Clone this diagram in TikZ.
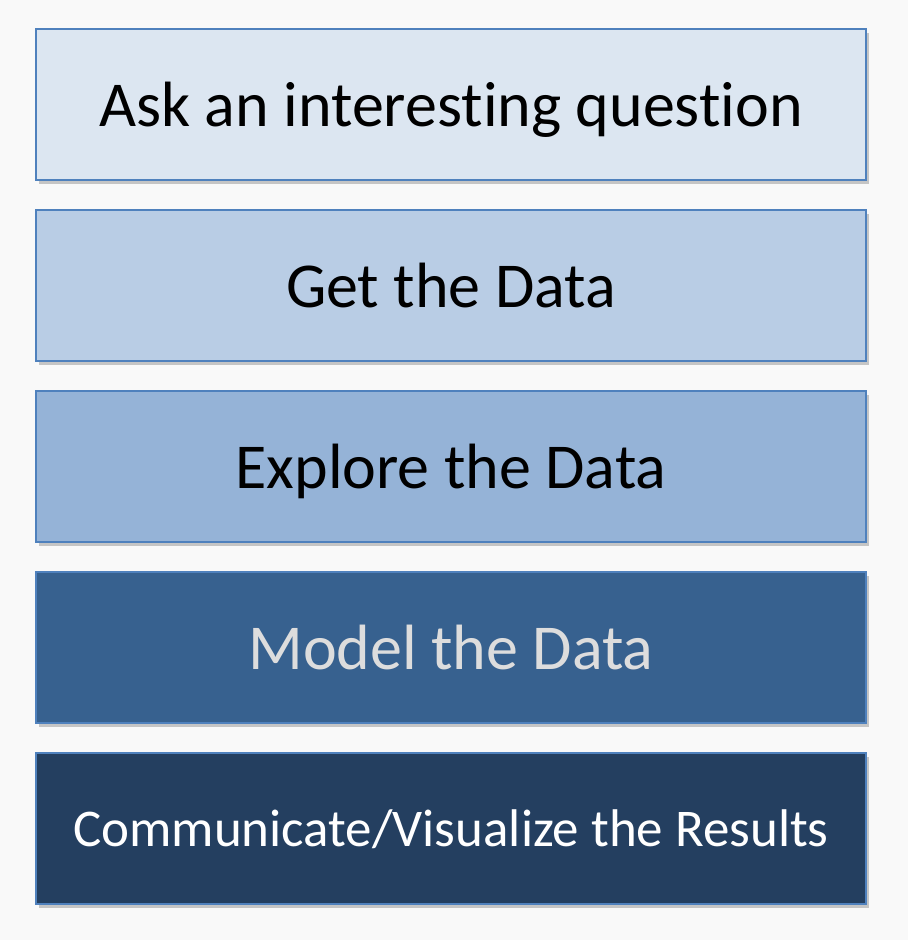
\documentclass[tikz,border=0pt]{standalone}
\usepackage{fontspec}
\setmainfont{Carlito}[Ligatures=NoCommon]
\usetikzlibrary{shadows}
\definecolor{bgc}{HTML}{F9F9F9}
\definecolor{bordc}{HTML}{4F81BD}
\definecolor{c1}{HTML}{DCE6F1}
\definecolor{c2}{HTML}{B9CDE5}
\definecolor{c3}{HTML}{95B3D7}
\definecolor{c4}{HTML}{37618F}
\definecolor{c5}{HTML}{243F60}
\definecolor{t4}{HTML}{DDDDDD}
\tikzset{
  stagebox/.style={draw=bordc, line width=2pt, minimum width=830pt, minimum height=151pt,
    inner sep=0pt, outer sep=0pt, anchor=north west, text depth=0pt,
    drop shadow={shadow xshift=3pt, shadow yshift=-4pt, opacity=0.35, fill=black!60},
    font=\fontsize{64}{76}\selectfont},
}
\begin{document}
\begin{tikzpicture}[x=1pt,y=-1pt]
\fill[bgc] (0,0) rectangle (908,940);
\useasboundingbox (0,0) rectangle (908,940);
\node[stagebox, fill=c1, text=black] (s1) at (36,29) {Ask an interesting question};
\node[stagebox, fill=c2, text=black] (s2) at (36,210) {Get the Data};
\node[stagebox, fill=c3, text=black] (s3) at (36,391) {Explore the Data};
\node[stagebox, fill=c4, text=t4] (s4) at (36,572) {Model the Data};
\node[stagebox, fill=c5, text=white, font=\fontsize{53}{64}\selectfont] (s5) at (36,753) {Communicate/Visualize the Results};
\end{tikzpicture}
\end{document}
